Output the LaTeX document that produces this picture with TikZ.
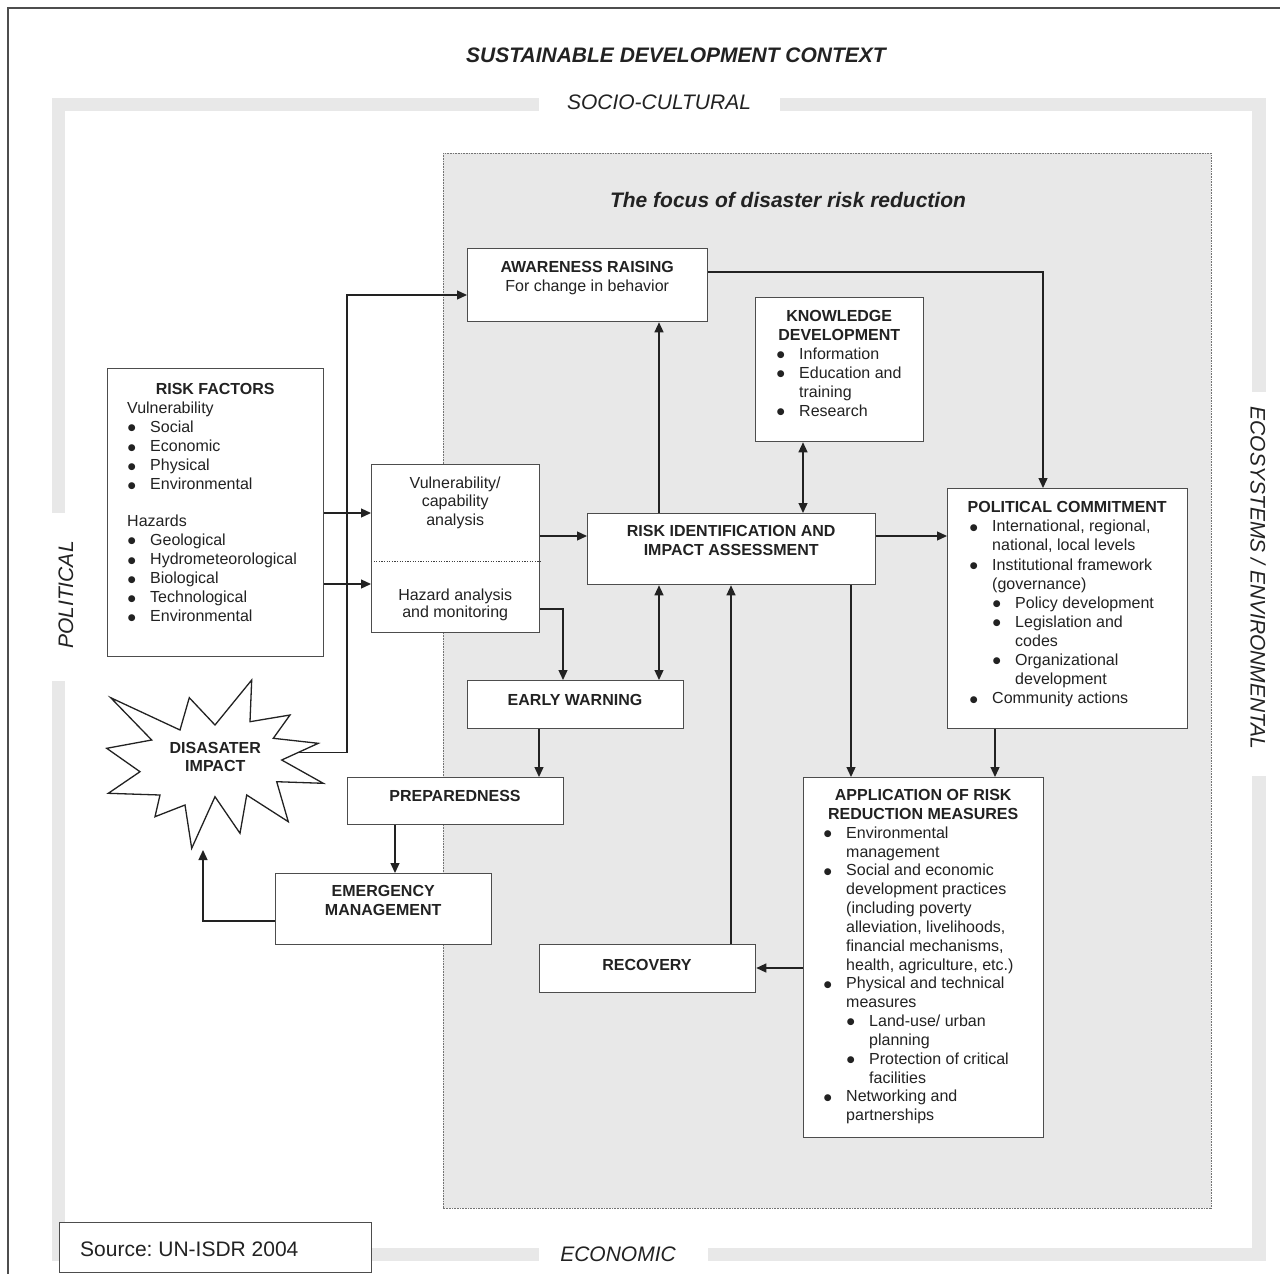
\documentclass[tikz,border=0pt]{standalone}
\usepackage{graphicx}
\usepackage{fontspec}
\setmainfont{Liberation Sans}
\newfontfamily\symfont{DejaVu Sans}
\usetikzlibrary{arrows.meta}

\definecolor{ink}{HTML}{222222}
\definecolor{frameline}{HTML}{4D4D4D}
\definecolor{zone}{HTML}{E8E8E8}

% line helpers for the text blocks inside the boxes
\newdimen\padl
\newdimen\bw
\bw=23pt
\newcommand\bull{{\symfont\fontsize{9}{9}\selectfont\raisebox{1.6pt}{●}}}
\newcommand\boxtext[2]{\parbox[t]{#1}{\parskip=0pt\relax #2}}
\newcommand\hd[1]{\par\noindent\makebox[\linewidth][c]{\strut\bfseries #1}}
\newcommand\cl[1]{\par\noindent\makebox[\linewidth][c]{\strut #1}}
\newcommand\pl[1]{\par\noindent\hspace*{\padl}\strut #1}
\newcommand\bu[1]{\par\noindent\hspace*{\padl}\makebox[\bw][l]{\strut\hspace{0.6pt}\bull}#1}
\newcommand\cn[1]{\par\noindent\hspace*{\padl}\hspace*{\bw}\strut #1}
\newcommand\sbu[1]{\par\noindent\hspace*{\padl}\hspace*{\bw}\makebox[\bw][l]{\strut\hspace{0.6pt}\bull}#1}
\newcommand\scn[1]{\par\noindent\hspace*{\padl}\hspace*{2\bw}\strut #1}

\tikzset{
  panel/.style={draw=frameline, line width=1.3pt, fill=white, inner sep=0pt, anchor=north west},
  txt/.style={inner sep=0pt, anchor=base west, text=ink, font=\fontsize{16}{19.1}\selectfont},
  ctxt/.style={inner sep=0pt, anchor=base, text=ink, font=\fontsize{16}{19.1}\selectfont},
  ctx/.style={inner sep=0pt, text=ink, font=\fontsize{21}{25}\selectfont\itshape},
  heading/.style={inner sep=0pt, anchor=base, text=ink, font=\fontsize{21}{25}\selectfont\bfseries\itshape},
  arr/.style={draw=ink, line width=1.3pt, -{Triangle[length=10pt,width=9pt]}},
  darr/.style={draw=ink, line width=1.3pt, {Triangle[length=10pt,width=9pt]}-{Triangle[length=10pt,width=9pt]}},
  zonearea/.style={fill=zone, draw=black!55, line width=0.8pt, dash pattern=on 0.8pt off 0.8pt},
  divider/.style={draw=black!75, line width=1pt, dash pattern=on 1.2pt off 1.4pt},
}

\begin{document}
\begin{tikzpicture}[x=1pt,y=-1pt]
\fill[white] (0,0) rectangle (1280,1274);
\useasboundingbox (0,0) rectangle (1280,1274);

% outer frame
\draw[frameline, line width=1.5pt] (8,1280) -- (8,8) -- (1290,8);

% context bands
\fill[zone] (52,98) rectangle (539,111);
\fill[zone] (780,98) rectangle (1266,111);
\fill[zone] (52,98) rectangle (65,513);
\fill[zone] (52,681) rectangle (65,1261);
\fill[zone] (1252,98) rectangle (1266,392);
\fill[zone] (1252,776) rectangle (1266,1261);
\fill[zone] (52,1248) rectangle (539,1261);
\fill[zone] (708,1248) rectangle (1266,1261);

\node[heading] (title) at (676,62) {SUSTAINABLE DEVELOPMENT CONTEXT};
\node[ctx] (socio) at (659,102.5) {SOCIO-CULTURAL};
\node[ctx] (econ) at (618,1254) {ECONOMIC};
\node[ctx, rotate=90] (polit) at (66,595) {POLITICAL};
\node[ctx, rotate=-90] (ecosys) at (1258,578) {ECOSYSTEMS / ENVIRONMENTAL};

% focus area
\draw[zonearea] (443,153) rectangle (1211,1208);
\node[heading] (focus) at (788,207) {The focus of disaster risk reduction};

% risk factors
\node[panel, minimum width=216pt, minimum height=288pt] (rf) at (107,368) {};
\node[txt] (rf-t) at (107,394.3) {\boxtext{216pt}{\padl=20pt
  \hd{RISK FACTORS}
  \pl{Vulnerability}
  \bu{Social}
  \bu{Economic}
  \bu{Physical}
  \bu{Environmental}
  \par\vspace{17.5pt}
  \pl{Hazards}
  \bu{Geological}
  \bu{Hydrometeorological}
  \bu{Biological}
  \bu{Technological}
  \bu{Environmental}}};

% vulnerability / hazard analysis
\node[panel, minimum width=168pt, minimum height=168pt] (vh) at (371,464) {};
\draw[divider] (vh.west |- 0,561) -- (vh.east |- 0,561);
\node[txt, font=\fontsize{16}{18.4}\selectfont] (vh-a) at (371,488.3) {\boxtext{168pt}{%
  \cl{Vulnerability/}\cl{capability}\cl{analysis}}};
\node[txt, font=\fontsize{16}{17.7}\selectfont] (vh-b) at (371,600) {\boxtext{168pt}{%
  \cl{Hazard analysis}\cl{and monitoring}}};

% awareness raising
\node[panel, minimum width=240pt, minimum height=73pt] (ar) at (467,248) {};
\node[txt] (ar-t) at (467,272.7) {\boxtext{240pt}{%
  \hd{AWARENESS RAISING}\cl{For change in behavior}}};

% knowledge development
\node[panel, minimum width=168pt, minimum height=144pt] (kd) at (755,297) {};
\node[txt] (kd-t) at (755,321) {\boxtext{168pt}{\padl=21pt
  \hd{KNOWLEDGE}
  \hd{DEVELOPMENT}
  \bu{Information}
  \bu{Education and}
  \cn{training}
  \bu{Research}}};

% risk identification
\node[panel, minimum width=288pt, minimum height=71pt] (ri) at (587,513) {};
\node[txt] (ri-t) at (587,536.7) {\boxtext{288pt}{%
  \hd{RISK IDENTIFICATION AND}\hd{IMPACT ASSESSMENT}}};

% political commitment
\node[panel, minimum width=240pt, minimum height=240pt] (pc) at (947,488) {};
\node[txt] (pc-t) at (947,512.7) {\boxtext{240pt}{\padl=22pt
  \hd{POLITICAL COMMITMENT}
  \bu{International, regional,}
  \cn{national, local levels}
  \bu{Institutional framework}
  \cn{(governance)}
  \sbu{Policy development}
  \sbu{Legislation and}
  \scn{codes}
  \sbu{Organizational}
  \scn{development}
  \bu{Community actions}}};

% early warning
\node[panel, minimum width=216pt, minimum height=48pt] (ew) at (467,680) {};
\node[ctxt] (ew-t) at (575,705.7) {\bfseries EARLY WARNING};

% preparedness
\node[panel, minimum width=216pt, minimum height=47pt] (pp) at (347,777) {};
\node[ctxt] (pp-t) at (455,801.7) {\bfseries PREPAREDNESS};

% emergency management
\node[panel, minimum width=216pt, minimum height=71pt] (em) at (275,873) {};
\node[txt] (em-t) at (275,896.7) {\boxtext{216pt}{%
  \hd{EMERGENCY}\hd{MANAGEMENT}}};

% recovery
\node[panel, minimum width=216pt, minimum height=48pt] (rc) at (539,944) {};
\node[ctxt] (rc-t) at (647,970) {\bfseries RECOVERY};

% application of risk reduction measures
\node[panel, minimum width=240pt, minimum height=360pt] (ap) at (803,777) {};
\node[txt, font=\fontsize{16}{18.82}\selectfont] (ap-t) at (803,800.7) {\boxtext{240pt}{\padl=20pt
  \hd{APPLICATION OF RISK}
  \hd{REDUCTION MEASURES}
  \bu{Environmental}
  \cn{management}
  \bu{Social and economic}
  \cn{development practices}
  \cn{(including poverty}
  \cn{alleviation, livelihoods,}
  \cn{financial mechanisms,}
  \cn{health, agriculture, etc.)}
  \bu{Physical and technical}
  \cn{measures}
  \sbu{Land-use/ urban}
  \scn{planning}
  \sbu{Protection of critical}
  \scn{facilities}
  \bu{Networking and}
  \cn{partnerships}}};

% disaster impact burst
\draw[draw=ink, line width=1.3pt, fill=white, line join=miter]
  (110.7,697.7) -- (180,730) -- (189.3,697.7) -- (215,725) -- (251.7,680) --
  (250,721.7) -- (290,715) -- (273.3,738.3) -- (318.3,743.3) -- (281.7,760) --
  (323.3,783.3) -- (276.7,781.7) -- (288.3,821.7) -- (246.7,795) -- (240,833.3) --
  (215,796.7) -- (191.7,848.3) -- (185,805) -- (155,816.7) -- (160,795) --
  (108.3,793.3) -- (140,771.7) -- (106.7,748.3) -- (151.7,740) -- cycle;
\node[ctxt, font=\fontsize{16}{18.4}\selectfont] (impact) at (215.3,753.3) {\boxtext{130pt}{%
  \hd{DISASATER}\hd{IMPACT}}};
\coordinate (imp-r) at (299,752.7);
\coordinate (imp-b) at (203,850);

% source note
\node[panel, minimum width=312pt, minimum height=50pt] (src) at (59,1222) {};
\node[txt, font=\fontsize{21}{25}\selectfont\frenchspacing] (src-t) at (80,1256) {Source: UN-ISDR 2004};

% connectors
\draw[arr] (rf.east |- 0,513) -- (vh.west |- 0,513);
\draw[arr] (rf.east |- 0,584) -- (vh.west |- 0,584);
\draw[arr] (vh.east |- 0,536) -- (ri.west |- 0,536);
\draw[arr] (ri.east |- 0,536) -- (pc.west |- 0,536);
\draw[arr] (vh.east |- 0,609) -| (ew.north -| 563,0);
\draw[darr] (ri.south -| 659,0) -- (ew.north -| 659,0);
\draw[arr] (ri.north -| 659,0) -- (ar.south -| 659,0);
\draw[darr] (kd.south -| 803,0) -- (ri.north -| 803,0);
\draw[arr] (ar.east |- 0,272) -| (pc.north -| 1043,0);
\draw[arr] (ri.south -| 851,0) -- (ap.north -| 851,0);
\draw[arr] (pc.south -| 995,0) -- (ap.north -| 995,0);
\draw[arr] (ap.west |- 0,968) -- (rc.east |- 0,968);
\draw[arr] (rc.north -| 731,0) -- (ri.south -| 731,0);
\draw[arr] (ew.south -| 539,0) -- (pp.north -| 539,0);
\draw[arr] (pp.south -| 395,0) -- (em.north -| 395,0);
\draw[arr] (em.west |- 0,921) -| (imp-b);
\draw[arr] (imp-r) -- (347,752.7) -- (347,295) -- (ar.west |- 0,295);
\end{tikzpicture}
\end{document}
